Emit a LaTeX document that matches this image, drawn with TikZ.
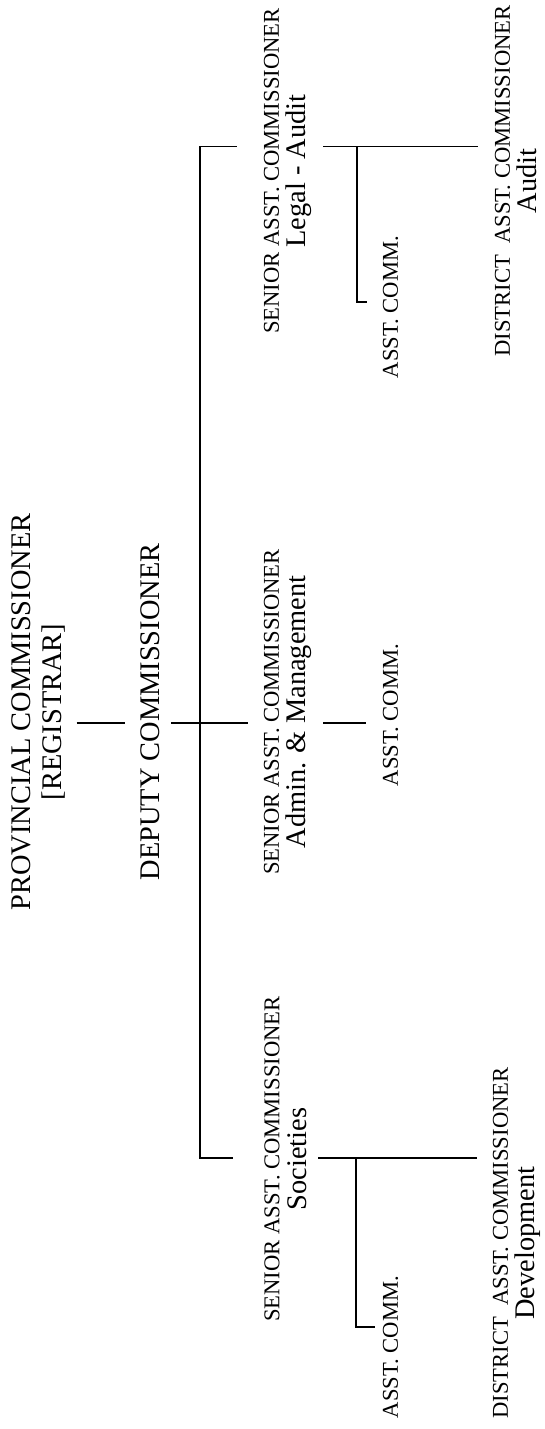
\documentclass[tikz,border=0pt]{standalone}
\usepackage{fontspec}
\setmainfont{Liberation Serif}
\newcommand\bigsize{\fontsize{14.2}{13.5}\selectfont}
\newcommand\smallsize{\fontsize{11.3}{13.5}\selectfont}
\begin{document}
\begin{tikzpicture}[x=0.5pt,y=-0.5pt,
        post/.style={rotate=90,align=center,inner sep=0pt,font=\bigsize},
        link/.style={line width=0.55pt,shorten <=5.5pt,shorten >=8pt}]
            \useasboundingbox (0,0) rectangle (545,1429);
            \node[post] (prov) at (38.5,712) {PROVINCIAL COMMISSIONER\\[2pt]{[REGISTRAR]}};
            \node[post] (dep) at (150.5,712) {DEPUTY COMMISSIONER};
            \node[post] (sacL) at (288,171) {{\smallsize SENIOR ASST. COMMISSIONER}\\Legal - Audit};
            \node[post] (sacA) at (288,712) {{\smallsize SENIOR ASST. COMMISSIONER}\\Admin. \& Management};
            \node[post] (sacS) at (285.5,1159) {{\smallsize SENIOR ASST. COMMISSIONER}\\Societies};
            \node[post,font=\smallsize] (acT) at (390.5,307) {ASST. COMM.};
            \node[post,font=\smallsize] (acM) at (390.5,715) {ASST. COMM.};
            \node[post,font=\smallsize] (acB) at (390.5,1347) {ASST. COMM.};
            \node[post] (dacA) at (516,181) {{\smallsize DISTRICT\ \ ASST. COMMISSIONER}\\Audit};
            \node[post] (dacD) at (517,1243) {{\smallsize DISTRICT\ \ ASST. COMMISSIONER}\\Development};
            \coordinate (yT) at (0,146.7);
            \coordinate (yM) at (0,723);
            \coordinate (yB) at (0,1158);
            \coordinate (spT) at (200,146.7);
            \coordinate (spB) at (200,1158);
            \coordinate (brT) at (357,146.7);
            \coordinate (brB) at (356,1158);
            \coordinate (yAT) at (0,302);
            \coordinate (yAB) at (0,1327);
            \draw[link] (prov.south |- yM) -- (dep.north |- yM);
            \draw[link] (dep.south |- yM) -- (sacA.north |- yM);
            \draw[link,shorten <=13.5pt,shorten >=15.5pt] (sacL.north |- yT) -- (spT) -- (spB) -- (sacS.north |- yB);
            \draw[link] (sacA.south |- yM) -- (acM.north |- yM);
            \draw[link] (sacL.south |- yT) -- (dacA.north |- yT);
            \draw[link] (sacS.south |- yB) -- (dacD.north |- yB);
            \draw[link,shorten <=0pt,shorten >=7.5pt] (brT) |- (acT.north |- yAT);
            \draw[link,shorten <=0pt,shorten >=3.5pt] (brB) |- (acB.north |- yAB);
\end{tikzpicture}
\end{document}
